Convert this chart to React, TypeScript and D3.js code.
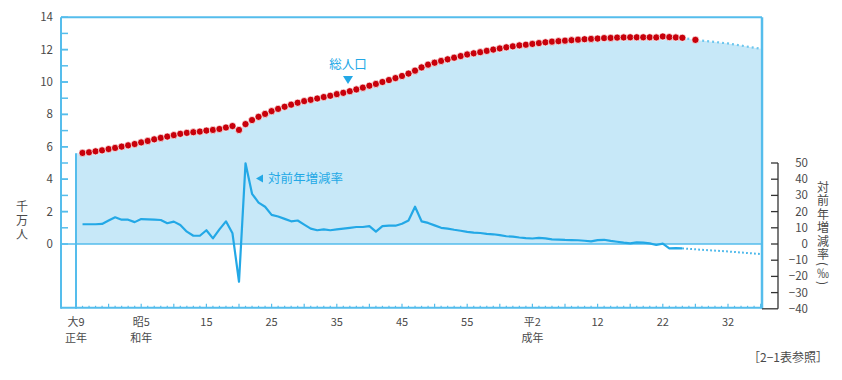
import React from "react";
import * as d3 from "d3";

// Total population (units of 10 million), 1920-2013
const popYears: number[] = d3.range(1920, 2014);
const popValues: number[] = [
  5.6, 5.62, 5.66, 5.72, 5.78, 5.86, 5.93, 6.01, 6.09, 6.17,
  6.27, 6.36, 6.46, 6.55, 6.63, 6.72, 6.8, 6.86, 6.9, 6.94,
  7.0, 7.04, 7.1, 7.19, 7.28, 7.04, 7.4, 7.65, 7.85, 8.03,
  8.2, 8.34, 8.47, 8.6, 8.72, 8.82, 8.9, 8.98, 9.07, 9.15,
  9.25, 9.33, 9.43, 9.54, 9.65, 9.77, 9.88, 10.0, 10.12, 10.24,
  10.37, 10.52, 10.7, 10.9, 11.07, 11.19, 11.3, 11.4, 11.5, 11.6,
  11.7, 11.77, 11.84, 11.92, 12.0, 12.07, 12.14, 12.2, 12.26, 12.3,
  12.35, 12.4, 12.45, 12.49, 12.52, 12.55, 12.58, 12.61, 12.64, 12.66,
  12.68, 12.71, 12.72, 12.74, 12.75, 12.76, 12.76, 12.76, 12.76, 12.75,
  12.81, 12.77, 12.75, 12.73,
];
// Projection
const projYears: number[] = [2013, 2015, 2020, 2025];
const projValues: number[] = [12.73, 12.6, 12.38, 12.05];
const extraDotYears: number[] = [2015];
const extraDotValues: number[] = [12.6];

// Year-on-year rate (per mille), 1921-2013
const rateYears: number[] = d3.range(1921, 2014);
const rateValues: number[] = [
  12.2, 12.2, 12.2, 12.4, 14.5, 16.5, 15.0, 15.0, 13.5,
  15.4, 15.2, 15.0, 14.8, 12.8, 13.8, 11.7, 7.6, 5.1, 5.1,
  8.5, 3.5, 9.0, 14.0, 6.6, -23.3, 49.8, 31.0, 25.5, 23.0,
  18.0, 17.0, 15.5, 14.0, 14.5, 12.0, 9.5, 8.5, 9.0, 8.5,
  9.0, 9.5, 10.0, 10.5, 10.5, 11.0, 7.6, 11.0, 11.3, 11.3,
  12.5, 14.5, 23.0, 14.0, 13.0, 11.5, 10.0, 9.5, 8.8, 8.2,
  7.5, 7.0, 6.8, 6.3, 6.0, 5.5, 4.8, 4.5, 4.0, 3.6,
  3.4, 3.8, 3.5, 2.9, 2.7, 2.5, 2.4, 2.3, 2.0, 1.6,
  2.4, 2.6, 1.9, 1.4, 0.8, 0.4, 1.0, 0.8, 0.4, -0.6,
  0.2, -2.7, -2.6, -2.7,
];
const rateProjYears: number[] = [2013, 2015, 2020, 2025];
const rateProjValues: number[] = [-2.7, -3.3, -4.6, -6.2];

const leftTicks: number[] = [0, 2, 4, 6, 8, 10, 12, 14];
const rightTicks: number[] = [50, 40, 30, 20, 10, 0, -10, -20, -30, -40];
const xLabelYears: number[] = [1920, 1930, 1940, 1950, 1960, 1970, 1980, 1990, 2000, 2010, 2020];
const xLabelTop: string[] = ["大9", "昭5", "15", "25", "35", "45", "55", "平2", "12", "22", "32"];
const xLabelBottom: string[] = ["正年", "和年", "", "", "", "", "", "成年", "", "", ""];

const FONT = "'Noto Sans CJK JP', 'Noto Sans', sans-serif";
const BLUE = "#23a8e6";
const FRAME = "#55bdec";
const FILL = "#c7e8f8";
const RED = "#c8000b";
const GRAY = "#4a4a4a";

export default function App() {
  const x = d3.scaleLinear().domain([1920, 2025]).range([76, 760.6]);
  const y = d3.scaleLinear().domain([-4, 14]).range([308.8, 17.2]);
  const yr = d3.scaleLinear().domain([-40, 140]).range([308.8, 17.2]);

  const areaData: [number, number][] = popYears.map((yy, i) => [yy, popValues[i]] as [number, number])
    .concat(projYears.slice(1).map((yy, i) => [yy, projValues[i + 1]] as [number, number]));
  const area = d3.area<[number, number]>().x(d => x(d[0])).y0(y(0)).y1(d => y(d[1]));
  const line = d3.line<[number, number]>().x(d => x(d[0])).y(d => y(d[1]));
  const rline = d3.line<[number, number]>().x(d => x(d[0])).y(d => yr(d[1]));

  const projPts = projYears.map((yy, i) => [yy, projValues[i]] as [number, number]);
  const ratePts = rateYears.map((yy, i) => [yy, rateValues[i]] as [number, number]);
  const rateProjPts = rateProjYears.map((yy, i) => [yy, rateProjValues[i]] as [number, number]);

  const left = 61, right = 762, top = 17.2, bottom = 308.8;
  const minorLeft = d3.range(1, 14, 1);
  const yearTicks = d3.range(1920, 2026);

  return (
    <svg width={842} height={372} style={{ display: "block", margin: "-8px 0 0 -8px" }} fontFamily={FONT}>
      {/* area fill */}
      <path d={area(areaData) || ""} fill={FILL} />
      {/* left edge of area */}
      <line x1={x(1920)} x2={x(1920)} y1={y(popValues[0])} y2={bottom} stroke={FRAME} strokeWidth={2} />
      {/* frame */}
      <line x1={left} x2={right} y1={top} y2={top} stroke={FRAME} strokeWidth={2} />
      <line x1={left} x2={left} y1={top} y2={bottom} stroke={FRAME} strokeWidth={2} />
      <line x1={right} x2={right} y1={top} y2={bottom} stroke={FRAME} strokeWidth={2.5} />
      <line x1={left} x2={right} y1={bottom - 1} y2={bottom - 1} stroke={FRAME} strokeWidth={2} />
      <line x1={left} x2={right} y1={y(0)} y2={y(0)} stroke={FRAME} strokeWidth={1.5} />
      {/* left ticks */}
      {minorLeft.concat(leftTicks).map((v, i) => (
        <line key={"lt" + i} x1={left} x2={left + 7} y1={y(v)} y2={y(v)} stroke={FRAME} strokeWidth={1.5} />
      ))}
      {leftTicks.map(v => (
        <text key={"ll" + v} x={53} y={y(v)} dy="0.35em" textAnchor="end" fontSize={11.5} fill={GRAY}>{v}</text>
      ))}
      {/* bottom ticks */}
      {yearTicks.map(yy => (
        <line key={"bt" + yy} x1={x(yy)} x2={x(yy)} y1={bottom - 1} y2={bottom - (yy % 5 === 0 ? 5 : 3)} stroke={FRAME} strokeWidth={1.2} />
      ))}
      {xLabelYears.map((yy, i) => (
        <g key={"xl" + yy}>
          <text x={x(yy)} y={326} textAnchor="middle" fontSize={11} fill={GRAY}>{xLabelTop[i]}</text>
          {xLabelBottom[i] && (
            <text x={x(yy)} y={342.3} textAnchor="middle" fontSize={11} fill={GRAY}>{xLabelBottom[i]}</text>
          )}
        </g>
      ))}
      {/* right axis */}
      <line x1={778} x2={778} y1={yr(50)} y2={yr(-40)} stroke="#333" strokeWidth={1.3} />
      {rightTicks.map(v => (
        <line key={"rt" + v} x1={v === -40 ? right : 771} x2={778} y1={yr(v)} y2={yr(v)} stroke="#333" strokeWidth={1.3} />
      ))}
      {rightTicks.map(v => (
        <text key={"rl" + v} x={808} y={yr(v)} dy="0.35em" textAnchor="end" fontSize={11.5} fill={GRAY}>
          {v < 0 ? "−" + Math.abs(v) : v}
        </text>
      ))}
      <text x={823} y={181} fontSize={12} fill={GRAY} letterSpacing={1.5}
        style={{ writingMode: "vertical-rl" }}>対前年増減率(‰)</text>
      {/* left title */}
      <text x={22} y={200} fontSize={12} fill={GRAY} letterSpacing={2}
        style={{ writingMode: "vertical-rl" }}>千万人</text>
      {/* rate line */}
      <path d={rline(ratePts) || ""} fill="none" stroke={BLUE} strokeWidth={2.2} strokeLinejoin="round" />
      <path d={rline(rateProjPts) || ""} fill="none" stroke={BLUE} strokeWidth={2} strokeDasharray="1.5,2.5" />
      {/* population projection */}
      <path d={line(projPts) || ""} fill="none" stroke="#6cc6ee" strokeWidth={2.2} strokeDasharray="2,3" />
      {/* population dots */}
      {popYears.slice(1).map((yy, i) => (
        <circle key={"pd" + yy} cx={x(yy)} cy={y(popValues[i + 1])} r={3.6} fill={RED} stroke="#fff" strokeWidth={0.7} />
      ))}
      {extraDotYears.map((yy, i) => (
        <circle key={"ed" + yy} cx={x(yy)} cy={y(extraDotValues[i])} r={3.6} fill={RED} stroke="#fff" strokeWidth={0.7} />
      ))}
      {/* annotations */}
      <text x={348} y={65} dy="0.35em" textAnchor="middle" fontSize={12.5} fill={BLUE}>総人口</text>
      <path d="M343,76 L353,76 L348,84 Z" fill={BLUE} />
      <path d="M256,178.5 L263,174.5 L263,182.5 Z" fill={BLUE} />
      <text x={268} y={178.5} dy="0.35em" fontSize={12.5} fill={BLUE}>対前年増減率</text>
      <text x={828} y={358} dy="0.35em" textAnchor="end" fontSize={12} fill={GRAY}>［2−1表参照］</text>
    </svg>
  );
}
